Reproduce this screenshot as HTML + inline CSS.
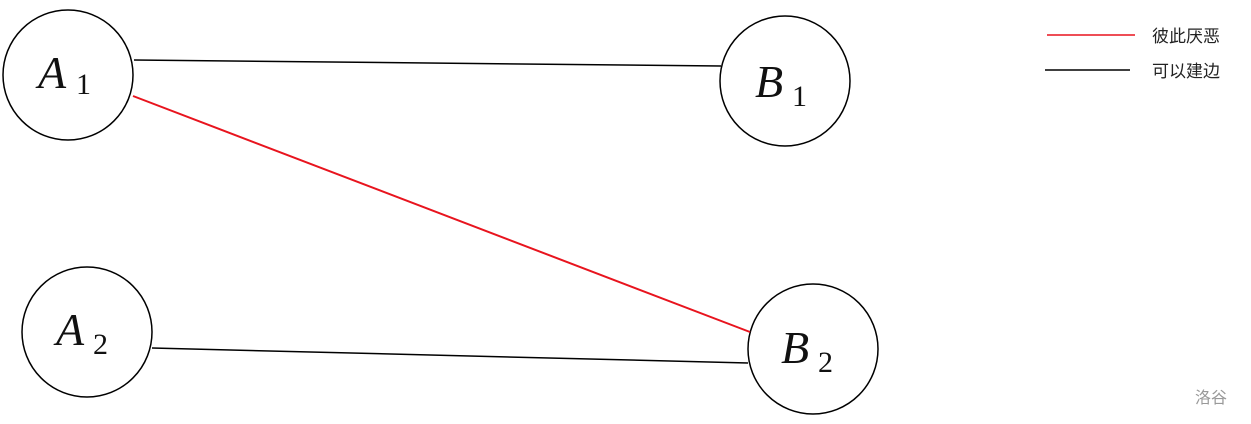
<!DOCTYPE html>
<html><head><meta charset="utf-8"><style>
html,body{margin:0;padding:0;background:#fff;}
svg{display:block}
</style></head><body>
<svg width="1251" height="424" viewBox="0 0 1251 424" xmlns="http://www.w3.org/2000/svg">
<g fill="none" stroke="#000" stroke-width="1.5">
<circle cx="68" cy="75" r="65"/>
<circle cx="785" cy="81" r="65"/>
<circle cx="87" cy="332" r="65"/>
<circle cx="813" cy="349" r="65"/>
<line x1="134" y1="60" x2="721" y2="66"/>
<line x1="152" y1="348" x2="748" y2="363"/>
<line x1="1045" y1="70" x2="1130" y2="70"/>
</g>
<line x1="133" y1="96" x2="750" y2="332" stroke="#e8141e" stroke-width="2"/>
<line x1="1047" y1="35" x2="1135" y2="35" stroke="#e8141e" stroke-width="1.5"/>
<g font-family="Liberation Serif, serif" font-style="italic" fill="#111">
<text x="38" y="88" font-size="46">A</text><text x="76" y="94" font-size="30" font-style="normal">1</text>
<text x="755" y="97" font-size="46">B</text><text x="792" y="106" font-size="30" font-style="normal">1</text>
<text x="56" y="345" font-size="46">A</text><text x="93" y="354" font-size="30" font-style="normal">2</text>
<text x="781" y="363" font-size="46">B</text><text x="818" y="372" font-size="30" font-style="normal">2</text>
</g>
<g font-family="Liberation Sans, Noto Sans CJK SC, sans-serif" font-size="17" fill="#222">
<text x="1152" y="42">彼此厌恶</text>
<text x="1152" y="77">可以建边</text>
</g>
<text x="1195" y="403" font-family="Liberation Sans, Noto Sans CJK SC, sans-serif" font-size="16" fill="#999">洛谷</text>
</svg>
</body></html>
